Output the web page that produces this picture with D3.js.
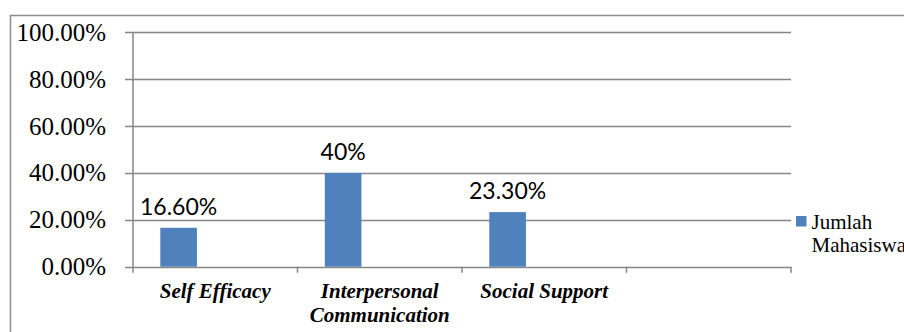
<!DOCTYPE html>
<html>
<head>
<meta charset="utf-8">
<script src="https://cdn.jsdelivr.net/npm/d3@7"></script>
<style>
html,body{margin:0;padding:0;background:#fff;}
svg{display:block;}
</style>
</head>
<body>
<svg id="chart" width="904" height="332"></svg>
<script>
const categories = ["Self Efficacy", "Interpersonal Communication", "Social Support", ""];
const categoryLines = [["Self Efficacy"], ["Interpersonal", "Communication"], ["Social Support"], []];
const seriesNames = ["Jumlah Mahasiswa", "", ""];
const values = [0.166, 0.40, 0.233, null];
const valueLabels = ["16.60%", "40%", "23.30%", ""];
const yTicks = [0, 0.2, 0.4, 0.6, 0.8, 1.0];
const legendLines = ["Jumlah", "Mahasiswa"];

const svg = d3.select("#chart");
const grid = "#868686";
const barColor = "#4F81BD";
const serif = "'Liberation Serif', 'Times New Roman', serif";

// outer frame (clipped at right/bottom like the reference)
svg.append("rect").attr("x", 10.5).attr("y", 15.5).attr("width", 1000).attr("height", 400)
  .attr("fill", "none").attr("stroke", "#8c8c8c").attr("stroke-width", 1.5);

const plot = {left: 133, right: 791, top: 32.3, bottom: 266.7};
const x = d3.scaleBand().domain(categories.map((c, i) => i)).range([plot.left, plot.right]).paddingInner(0).paddingOuter(0);
const x1 = d3.scaleBand().domain(seriesNames.map((s, i) => i)).range([0, x.bandwidth()]).paddingInner(0).paddingOuter(0.745);
const y = d3.scaleLinear().domain([0, 1]).range([plot.bottom, plot.top]);

// gridlines + y ticks
const yAxis = svg.append("g");
yTicks.forEach(t => {
  const yy = Math.round(y(t)) + 0.5;
  yAxis.append("line").attr("x1", plot.left - 8).attr("x2", plot.right).attr("y1", yy).attr("y2", yy)
    .attr("stroke", grid).attr("stroke-width", 1.5);
  yAxis.append("text").attr("x", 106).attr("y", y(t)).attr("dy", "0.34em")
    .attr("text-anchor", "end").attr("font-family", serif)
    .attr("font-size", 25).attr("fill", "#000").text(d3.format(".2%")(t));
});
// y axis line
svg.append("line").attr("x1", plot.left).attr("x2", plot.left).attr("y1", plot.top).attr("y2", plot.bottom + 6)
  .attr("stroke", grid).attr("stroke-width", 1.5);
// x category tick marks
categories.forEach((c, i) => {
  const xx = x(i) + x.bandwidth();
  svg.append("line").attr("x1", xx).attr("x2", xx).attr("y1", plot.bottom).attr("y2", plot.bottom + 6)
    .attr("stroke", grid).attr("stroke-width", 1.5);
});

// bars
categories.forEach((c, i) => {
  if (values[i] == null) return;
  const bx = x(i) + x1(0);
  svg.append("rect").attr("x", bx).attr("y", y(values[i])).attr("width", x1.bandwidth())
    .attr("height", y(0) - y(values[i])).attr("fill", barColor);
  svg.append("text").attr("x", bx + x1.bandwidth() / 2).attr("y", y(values[i]) - 13)
    .attr("text-anchor", "middle").attr("font-family", "Lato, Carlito, Calibri, sans-serif")
    .attr("font-size", 23).attr("fill", "#000").text(valueLabels[i]);
});

// category labels
categoryLines.forEach((lines, i) => {
  const cx = x(i) + x.bandwidth() / 2;
  lines.forEach((ln, j) => {
    svg.append("text").attr("x", cx).attr("y", 298 + j * 23.5).attr("text-anchor", "middle")
      .attr("font-family", serif).attr("font-size", 21)
      .attr("font-weight", "bold").attr("font-style", "italic").attr("fill", "#000").text(ln);
  });
});

// legend
svg.append("rect").attr("x", 796).attr("y", 216).attr("width", 10.5).attr("height", 10.5).attr("fill", barColor);
legendLines.forEach((ln, j) => {
  svg.append("text").attr("x", 811.5).attr("y", 228.5 + j * 23.4)
    .attr("font-family", serif).attr("font-size", 21)
    .attr("fill", "#000").text(ln);
});
</script>
</body>
</html>
